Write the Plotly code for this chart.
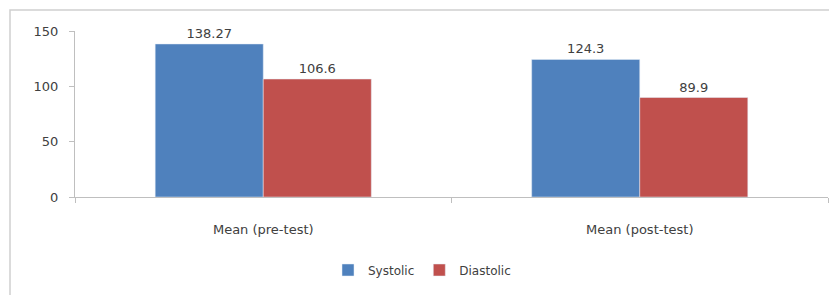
import plotly.graph_objects as go

categories = ["Mean (pre-test)", "Mean (post-test)"]
systolic = [138.27, 124.3]
diastolic = [106.6, 89.9]
systolic_labels = ["138.27", "124.3"]
diastolic_labels = ["106.6", "89.9"]

OFF = 8  # page body margin
W, H = 837 - OFF, 295 - OFF
L, T = 75 - OFF, 31 - OFF
pw, ph = 753, 166
R = W - L - pw
B = H - T - ph

FONT = "DejaVu Sans, Liberation Sans, sans-serif"
TXT = "#404040"

fig = go.Figure()
fig.add_trace(go.Bar(name="Systolic", x=categories, y=systolic, marker_color="#4F81BD",
                     text=systolic_labels, textposition="outside", cliponaxis=False,
                     textfont=dict(size=13, color=TXT)))
fig.add_trace(go.Bar(name="Diastolic", x=categories, y=diastolic, marker_color="#C0504D",
                     text=diastolic_labels, textposition="outside", cliponaxis=False,
                     textfont=dict(size=13, color=TXT)))

def px_x(x):
    return (x - OFF - L) / pw

def px_y(y):
    return (T + ph - (y - OFF)) / ph

fig.add_shape(type="rect", xref="paper", yref="paper",
              x0=px_x(10), x1=px_x(850), y0=px_y(310), y1=px_y(10),
              line=dict(color="#d0d0d0", width=1.5), fillcolor="rgba(0,0,0,0)", layer="below")

fig.update_layout(
    width=W, height=H,
    margin=dict(l=L, r=R, t=T, b=B, autoexpand=False),
    paper_bgcolor="white", plot_bgcolor="white",
    barmode="group", bargap=0.426, bargroupgap=0,
    font=dict(family=FONT, size=13, color=TXT),
    showlegend=True,
    legend=dict(orientation="h", x=px_x(422), xanchor="center", y=px_y(270), yanchor="middle",
                font=dict(size=12, color=TXT), itemwidth=30, traceorder="normal"),
)
fig.update_yaxes(range=[0, 150], tickvals=[0, 50, 100, 150], showgrid=False, zeroline=False,
                 showline=True, linecolor="#bfbfbf", linewidth=1, ticks="outside", ticklen=5,
                 tickcolor="#bfbfbf", ticklabelstandoff=8, tickfont=dict(size=13, color=TXT))
fig.update_xaxes(showline=True, linecolor="#bfbfbf", linewidth=1, ticks="outside", ticklen=5,
                 tickcolor="#bfbfbf", tickson="boundaries", ticklabelstandoff=20,
                 tickfont=dict(size=13, color=TXT))

fig.write_html("out.html")
